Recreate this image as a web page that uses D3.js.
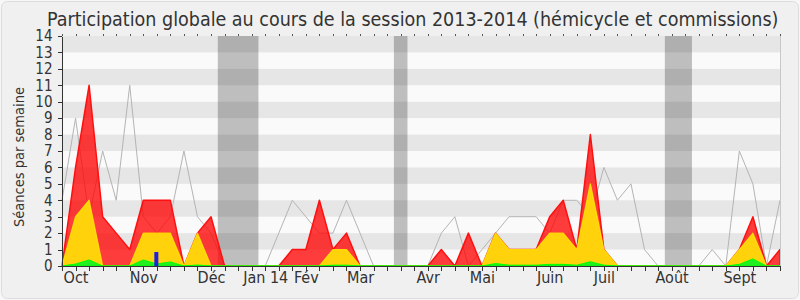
<!DOCTYPE html>
<html>
<head>
<meta charset="utf-8">
<script src="https://cdn.jsdelivr.net/npm/d3@7"></script>
<style>
  body { margin: 0; background: #f7f7f7; }
  svg text { font-family: "DejaVu Sans Condensed", "DejaVu Sans", sans-serif; font-stretch: condensed; fill: #333; }
  .axis path, .axis line { stroke: #333; shape-rendering: crispEdges; }
</style>
</head>
<body>
<div id="chart"></div>
<script>
// weekly values, session 2013-2014 (54 weeks, starting end of September)
const presences = [0, 6, 11, 3, 2, 1, 4, 4, 4, 0, 2, 3, 0, 0, 0, 0, 0, 1, 1, 4, 1, 2, 0, 0, 0, 0, 0, 0, 1, 0, 2, 0, 2, 1, 1, 1, 3, 4, 1, 8, 1, 0, 0, 0, 0, 0, 0, 0, 0, 0, 1, 3, 0, 1];
const participations = [0, 3, 4, 0, 0, 0, 2, 2, 2, 0, 2, 0, 0, 0, 0, 0, 0, 0, 0, 0, 1, 1, 0, 0, 0, 0, 0, 0, 0, 0, 0, 0, 2, 1, 1, 1, 2, 2, 1, 5, 1, 0, 0, 0, 0, 0, 0, 0, 0, 0, 1, 2, 0, 0];
const interventions = [0, 0.12, 0.37, 0, 0, 0, 0.37, 0.12, 0.25, 0, 0.06, 0, 0, 0, 0, 0, 0, 0, 0, 0, 0.05, 0.05, 0, 0, 0, 0, 0, 0, 0, 0, 0, 0, 0.15, 0.05, 0.05, 0.05, 0.1, 0.1, 0.05, 0.26, 0.05, 0, 0, 0, 0, 0, 0, 0, 0, 0, 0.1, 0.43, 0, 0];
const mediane = [4, 9, 3, 7, 4, 11, 3, 2, 3, 7, 3, 2, 0, 0, 0, 0, 2, 4, 3, 2, 2, 4, 2, 0, 0, 0, 0, 0, 2, 3, 0, 1, 2, 3, 3, 3, 2, 4, 4, 3, 6, 4, 5, 1, 0, 0, 0, 0, 1, 0, 7, 5, 0, 4];
const questions = [0, 0, 0, 0, 0, 0, 0, 0.85, 0, 0, 0, 0, 0, 0, 0, 0, 0, 0, 0, 0, 0, 0, 0, 0, 0, 0, 0, 0, 0, 0, 0, 0, 0, 0, 0, 0, 0, 0, 0, 0, 0, 0, 0, 0, 0, 0, 0, 0, 0, 0, 0, 0, 0, 0];

// parliamentary holidays: first and last week index
const vacancesDebut = [12, 25, 45];
const vacancesFin = [14, 25, 46];

const moisLabels = ["Oct", "Nov", "Déc", "Jan 14", "Fév", "Mar", "Avr", "Mai", "Juin", "Juil", "Août", "Sept"];
const moisSemaines = [1, 6, 11, 15, 18, 22, 27, 31, 36, 40, 45, 50];

const yTicks = d3.range(0, 15);

const width = 800, height = 300;
const plotLeft = 62, plotRight = 780, plotTop = 36, plotBottom = 266;

const svg = d3.select("#chart").append("svg")
  .attr("width", width)
  .attr("height", height);

svg.append("rect")
  .attr("x", 1.5).attr("y", 1.5)
  .attr("width", width - 3).attr("height", height - 3)
  .attr("rx", 6)
  .attr("fill", "#f0f0f0")
  .attr("stroke", "#dcdcdc");

const weeks = d3.range(presences.length);

const x = d3.scaleLinear()
  .domain([0, weeks.length - 1])
  .range([plotLeft, plotRight]);

const y = d3.scaleLinear()
  .domain([0, 14])
  .range([plotBottom, plotTop]);

// plot background
svg.append("rect")
  .attr("x", plotLeft).attr("y", plotTop)
  .attr("width", plotRight - plotLeft).attr("height", plotBottom - plotTop)
  .attr("fill", "#fafafa");

// holidays
svg.append("g")
  .selectAll("rect")
  .data(vacancesDebut)
  .enter()
  .append("rect")
  .attr("x", (d) => x(d - 0.5))
  .attr("y", plotTop)
  .attr("width", (d, i) => x(vacancesFin[i] + 0.5) - x(d - 0.5))
  .attr("height", plotBottom - plotTop)
  .attr("fill", "#bebebe");

// horizontal stripes
svg.append("g")
  .selectAll("rect")
  .data(yTicks.filter(v => v % 2 === 1))
  .enter()
  .append("rect")
  .attr("x", plotLeft)
  .attr("y", d => y(d + 1))
  .attr("width", plotRight - plotLeft)
  .attr("height", d => y(d) - y(d + 1))
  .attr("fill", "#000")
  .attr("fill-opacity", 0.08);

// median line (under the areas)
svg.append("path")
  .datum(mediane)
  .attr("fill", "none")
  .attr("stroke", "#b4b4b4")
  .attr("stroke-width", 1)
  .attr("d", d3.line().x((d, i) => x(i)).y(d => y(d)));

function area(data) {
  return d3.area()
    .x((d, i) => x(i))
    .y0(y(0))
    .y1(d => y(d))(data);
}

svg.append("path")
  .attr("d", area(presences))
  .attr("fill", "rgba(255, 0, 0, 0.76)")
  .attr("stroke", "#ff1010")
  .attr("stroke-width", 1.5)
  .attr("stroke-linejoin", "round");

svg.append("path")
  .attr("d", area(participations))
  .attr("fill", "#ffd20c")
  .attr("stroke", "#ffe600")
  .attr("stroke-opacity", 0.85)
  .attr("stroke-width", 1.3)
  .attr("stroke-linejoin", "round");

svg.append("path")
  .attr("d", area(interventions))
  .attr("fill", "#22ee22")
  .attr("stroke", "#00ff00")
  .attr("stroke-width", 1);

// questions orales
svg.append("g")
  .selectAll("rect")
  .data(weeks.filter(i => questions[i] > 0))
  .enter()
  .append("rect")
  .attr("x", i => x(i) - 2.5)
  .attr("y", i => y(questions[i]))
  .attr("width", 4)
  .attr("height", i => y(0) - y(questions[i]))
  .attr("fill", "#1e1ee6");

// right border
svg.append("line")
  .attr("x1", plotRight + 0.5).attr("x2", plotRight + 0.5)
  .attr("y1", plotTop).attr("y2", plotBottom)
  .attr("stroke", "#c8c8c8");

// top week marks
svg.append("g")
  .selectAll("line")
  .data(weeks)
  .enter()
  .append("line")
  .attr("x1", i => Math.round(x(i)) + 0.5)
  .attr("x2", i => Math.round(x(i)) + 0.5)
  .attr("y1", plotTop - 2)
  .attr("y2", plotTop)
  .attr("stroke", "#555");

// axes
const xAxis = d3.axisBottom(x)
  .tickValues(weeks)
  .tickSize(5)
  .tickSizeOuter(0)
  .tickPadding(1)
  .tickFormat(i => {
    const k = moisSemaines.indexOf(i);
    return k >= 0 ? moisLabels[k] : "";
  });

svg.append("g")
  .attr("class", "axis")
  .attr("transform", `translate(0,${plotBottom})`)
  .call(xAxis)
  .call(g => g.selectAll("text").attr("font-size", 16).style("fill", "#333"));

const yAxis = d3.axisLeft(y)
  .tickValues(yTicks)
  .tickSize(4)
  .tickSizeOuter(0)
  .tickPadding(5.5)
  .tickFormat(d3.format("d"));

svg.append("g")
  .attr("class", "axis")
  .attr("transform", `translate(${plotLeft},0)`)
  .call(yAxis)
  .call(g => g.selectAll("text").attr("font-size", 15).style("fill", "#333"));

// title and y label
svg.append("text")
  .attr("x", 47)
  .attr("y", 26)
  .attr("font-size", 19.5)
  .text("Participation globale au cours de la session 2013-2014 (hémicycle et commissions)");

svg.append("text")
  .attr("transform", `translate(24,${(plotTop + plotBottom) / 2 + 6}) rotate(-90)`)
  .attr("text-anchor", "middle")
  .attr("font-size", 14.5)
  .text("Séances par semaine");
</script>
</body>
</html>
